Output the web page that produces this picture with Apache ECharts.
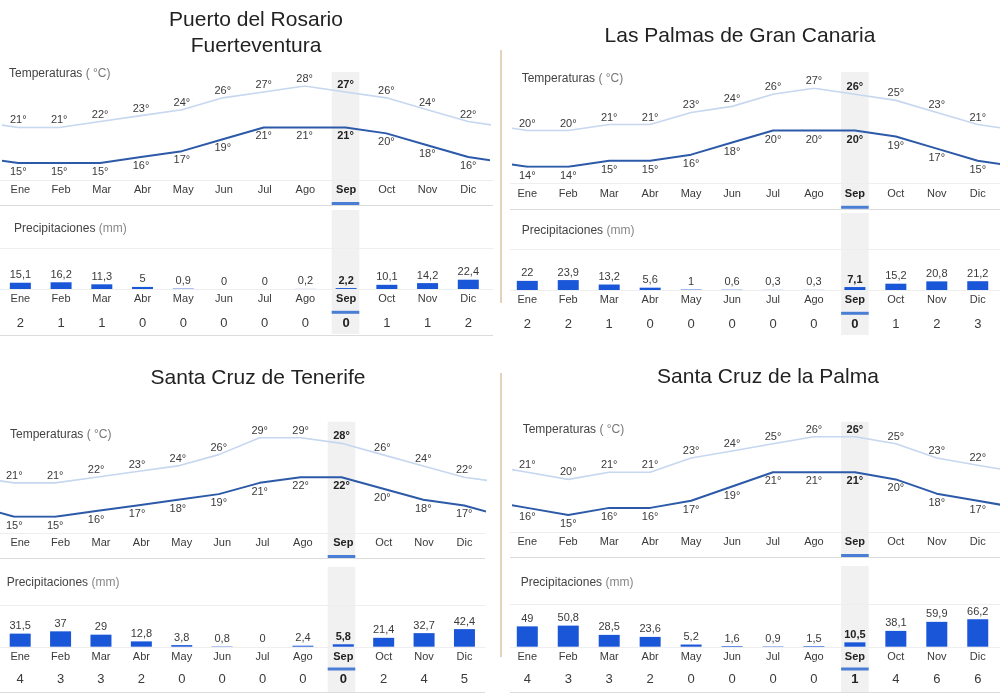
<!DOCTYPE html>
<html><head><meta charset="utf-8">
<script src="https://cdn.jsdelivr.net/npm/echarts@6/dist/echarts.min.js"></script>
<style>html,body{margin:0;padding:0;background:#fff}#c{width:1000px;height:696px}</style>
</head><body><div id="c"></div>
<script>
// ---------- DATA ----------
const months = ['Ene','Feb','Mar','Abr','May','Jun','Jul','Ago','Sep','Oct','Nov','Dic'];
const highlightMonth = 8;

const p1Title = ['Puerto del Rosario', 'Fuerteventura'];
const p1Max  = [21,21,22,23,24,26,27,28,27,26,24,22];
const p1Min  = [15,15,15,16,17,19,21,21,21,20,18,16];
const p1Rain = [15.1,16.2,11.3,5,0.9,0,0,0.2,2.2,10.1,14.2,22.4];
const p1Days = [2,1,1,0,0,0,0,0,0,1,1,2];

const p2Title = ['Las Palmas de Gran Canaria'];
const p2Max  = [20,20,21,21,23,24,26,27,26,25,23,21];
const p2Min  = [14,14,15,15,16,18,20,20,20,19,17,15];
const p2Rain = [22,23.9,13.2,5.6,1,0.6,0.3,0.3,7.1,15.2,20.8,21.2];
const p2Days = [2,2,1,0,0,0,0,0,0,1,2,3];

const p3Title = ['Santa Cruz de Tenerife'];
const p3Max  = [21,21,22,23,24,26,29,29,28,26,24,22];
const p3Min  = [15,15,16,17,18,19,21,22,22,20,18,17];
const p3Rain = [31.5,37,29,12.8,3.8,0.8,0,2.4,5.8,21.4,32.7,42.4];
const p3Days = [4,3,3,2,0,0,0,0,0,2,4,5];

const p4Title = ['Santa Cruz de la Palma'];
const p4Max  = [21,20,21,21,23,24,25,26,26,25,23,22];
const p4Min  = [16,15,16,16,17,19,21,21,21,20,18,17];
const p4Rain = [49,50.8,28.5,23.6,5.2,1.6,0.9,1.5,10.5,38.1,59.9,66.2];
const p4Days = [4,3,3,2,0,0,0,0,1,4,6,6];

const tempLabel = ['Temperaturas', '( °C)'];
const rainLabel = ['Precipitaciones', '(mm)'];

// ---------- LAYOUT ----------
const layouts = [
  {cx0:18.3, step:40.9, titleX:256, titleY:[20,46.7], tLab:[9,74], clip:[3,488.5], tTop:86, tH:77, tMonthY:190,
   hrX:[0,493], faint:[180,248,289], grey:[205,335], base:289, pLab:[14,229], pMonthY:299.3, daysY:323.3,
   hl:[[72,205],[210,334]], ul:[203.5,312.3]},
  {cx0:527.3, step:40.95, titleX:740, titleY:[36.7], tLab:[521.7,79], clip:[513,998.5], tTop:88.3, tH:78.4, tMonthY:194.3,
   hrX:[510,1000], faint:[183,249,290], grey:[209], base:290, pLab:[521.7,231], pMonthY:300, daysY:324,
   hl:[[72,208],[213,335]], ul:[207.3,313.3]},
  {cx0:14.3, step:40.9, titleX:258, titleY:[378], tLab:[10,435], clip:[0,485], tTop:437.7, tH:79, tMonthY:543.3,
   hrX:[0,485], faint:[533,605,646.7], grey:[558,691.7], base:646.7, pLab:[6.7,582.7], pMonthY:656.7, daysY:679.3,
   hl:[[421.7,557],[566.7,693]], ul:[556.5,669]},
  {cx0:527.3, step:40.95, titleX:768, titleY:[377], tLab:[522.7,430], clip:[513,1000], tTop:436.7, tH:78.3, tMonthY:541.7,
   hrX:[510,1000], faint:[531.7,604.3,646.7], grey:[557.3,691.7], base:646.7, pLab:[520.7,582.7], pMonthY:656.7, daysY:679.3,
   hl:[[421.7,556],[566,692]], ul:[555.5,669]}
];
const panels = [
  {title:p1Title, max:p1Max, min:p1Min, rain:p1Rain, days:p1Days},
  {title:p2Title, max:p2Max, min:p2Min, rain:p2Rain, days:p2Days},
  {title:p3Title, max:p3Max, min:p3Min, rain:p3Rain, days:p3Days},
  {title:p4Title, max:p4Max, min:p4Min, rain:p4Rain, days:p4Days}
];

const FONT = 'Arial, "Liberation Sans", sans-serif';
const TXT = '#3a3a3a';
const MAXC = '#c6d7ef', MINC = '#2c5aa8', BARC = '#1a56d8';
const RAIN_SCALE_MAX = 100, RAIN_H = 41.5;

const grid = [], xAxis = [], yAxis = [], series = [], graphic = [];

function boldRich(size, color) {
  return { b: { fontWeight: 'bold', fontSize: size, color: color, fontFamily: FONT } };
}
function catLabel(size, lh, margin) {
  return {
    show: true, interval: 0, margin: margin, fontSize: size, lineHeight: lh, color: TXT, fontFamily: FONT,
    formatter: (v, i) => i === highlightMonth ? '{b|' + v + '}' : v,
    rich: boldRich(size, '#222')
  };
}
const wrap = arr => [[-1, arr[11]]].concat(arr.map((v, k) => [k, v]), [[12, arr[0]]]);

panels.forEach((P, i) => {
  const L = layouts[i];
  const gL = L.cx0 - L.step / 2, gW = 12 * L.step;
  // grid 0: temperature lines
  const gT = grid.length;
  grid.push({left: L.clip[0], top: L.tTop, width: L.clip[1] - L.clip[0], height: L.tH, containLabel: false});
  const xT = xAxis.length;
  xAxis.push({type: 'value', gridIndex: gT, show: false,
    min: (L.clip[0] - L.cx0) / L.step, max: (L.clip[1] - L.cx0) / L.step});
  const yT = yAxis.length;
  yAxis.push({type: 'value', gridIndex: gT, show: false, min: Math.min(...P.min), max: Math.max(...P.max)});

  const tempSeries = (arr, color, width, pos, dist) => ({
    type: 'line', xAxisIndex: xT, yAxisIndex: yT, data: wrap(arr), silent: true,
    symbol: 'circle', symbolSize: 1, showSymbol: true,
    lineStyle: {color: color, width: width}, itemStyle: {color: color},
    label: {show: true, position: pos, distance: dist, fontSize: 11, color: TXT, fontFamily: FONT,
      formatter: p => {
        const k = p.dataIndex - 1;
        if (k < 0 || k > 11) return '';
        const s = p.value[1] + '°';
        return k === highlightMonth ? '{b|' + s + '}' : s;
      },
      rich: boldRich(11, '#222')},
    emphasis: {disabled: true}, animation: false, z: 3
  });
  series.push(tempSeries(P.max, MAXC, 1.6, 'top', 1));
  series.push(tempSeries(P.min, MINC, 2, 'bottom', 3));

  // grid 1: temperature month row
  const gM = grid.length;
  grid.push({left: gL, width: gW, top: L.tMonthY - 20, height: 10});
  xAxis.push({type: 'category', gridIndex: gM, data: months, axisLine: {show: false}, axisTick: {show: false},
    axisLabel: catLabel(11, 13, 3.5)});
  yAxis.push({type: 'value', gridIndex: gM, show: false});

  // grid 2: precipitation
  const gP = grid.length;
  grid.push({left: gL, width: gW, top: L.base - RAIN_H, height: RAIN_H});
  const xP = xAxis.length;
  xAxis.push({type: 'category', gridIndex: gP, data: months, position: 'bottom',
    axisLine: {show: false}, axisTick: {show: false},
    axisLabel: catLabel(11, 13, L.pMonthY - L.base - 6.5)});
  xAxis.push({type: 'category', gridIndex: gP, data: P.days.map(String), position: 'bottom',
    offset: L.daysY - L.base - 3 - 7.5,
    axisLine: {show: false}, axisTick: {show: false},
    axisLabel: catLabel(13, 15, 3)});
  const yP = yAxis.length;
  yAxis.push({type: 'value', gridIndex: gP, show: false, min: 0, max: RAIN_SCALE_MAX});
  series.push({
    type: 'bar', xAxisIndex: xP, yAxisIndex: yP, data: P.rain, barWidth: 21, silent: true,
    itemStyle: {color: BARC},
    label: {show: true, position: 'top', distance: 2, fontSize: 11, color: TXT, fontFamily: FONT,
      formatter: p => {
        const s = String(p.value).replace('.', ',');
        return p.dataIndex === highlightMonth ? '{b|' + s + '}' : s;
      },
      rich: boldRich(11, '#222')},
    emphasis: {disabled: true}, animation: false, z: 3
  });

  // decorations
  const hx = L.cx0 + highlightMonth * L.step;
  L.hl.forEach(b => graphic.push({type: 'rect', z: 0, silent: true,
    shape: {x: hx - 13.8, y: b[0], width: 27.6, height: b[1] - b[0]}, style: {fill: '#f1f1f1'}}));
  L.faint.forEach(y => graphic.push({type: 'line', z: 1, silent: true,
    shape: {x1: L.hrX[0], y1: Math.round(y) + 0.5, x2: L.hrX[1], y2: Math.round(y) + 0.5},
    style: {stroke: '#eeeeee', lineWidth: 1}}));
  L.grey.forEach(y => graphic.push({type: 'line', z: 1, silent: true,
    shape: {x1: L.hrX[0], y1: Math.round(y) + 0.5, x2: L.hrX[1], y2: Math.round(y) + 0.5},
    style: {stroke: '#dcdcdc', lineWidth: 1.2}}));
  L.ul.forEach(y => graphic.push({type: 'rect', z: 2, silent: true,
    shape: {x: hx - 13.8, y: y - 1.5, width: 27.6, height: 3}, style: {fill: '#4a7dd4'}}));
  P.title.forEach((t, k) => graphic.push({type: 'text', z: 2, silent: true,
    style: {x: L.titleX, y: L.titleY[k], text: t, align: 'center', verticalAlign: 'middle',
      font: '21px ' + FONT, fill: '#222'}}));
  graphic.push({type: 'text', z: 2, silent: true,
    style: {x: L.tLab[0], y: L.tLab[1], verticalAlign: 'middle', align: 'left',
      text: '{a|' + tempLabel[0] + '} {c|' + tempLabel[1] + '}',
      rich: {a: {fontSize: 12, fontFamily: FONT, fill: '#444'}, c: {fontSize: 12, fontFamily: FONT, fill: '#777'}}}});
  graphic.push({type: 'text', z: 2, silent: true,
    style: {x: L.pLab[0], y: L.pLab[1], verticalAlign: 'middle', align: 'left',
      text: '{a|' + rainLabel[0] + '} {c|' + rainLabel[1] + '}',
      rich: {a: {fontSize: 12, fontFamily: FONT, fill: '#444'}, c: {fontSize: 12, fontFamily: FONT, fill: '#888'}}}});
});

// vertical separators between the panels
[[50, 303], [373, 657]].forEach(s => graphic.push({type: 'line', z: 1, silent: true,
  shape: {x1: 501, y1: s[0], x2: 501, y2: s[1]}, style: {stroke: '#dcc3a5', lineWidth: 1.5}}));

const chart = echarts.init(document.getElementById('c'), null, {renderer: 'canvas'});
chart.setOption({
  animation: false,
  backgroundColor: '#fff',
  textStyle: {fontFamily: FONT},
  grid: grid, xAxis: xAxis, yAxis: yAxis, series: series, graphic: graphic
});
</script>
</body></html>
